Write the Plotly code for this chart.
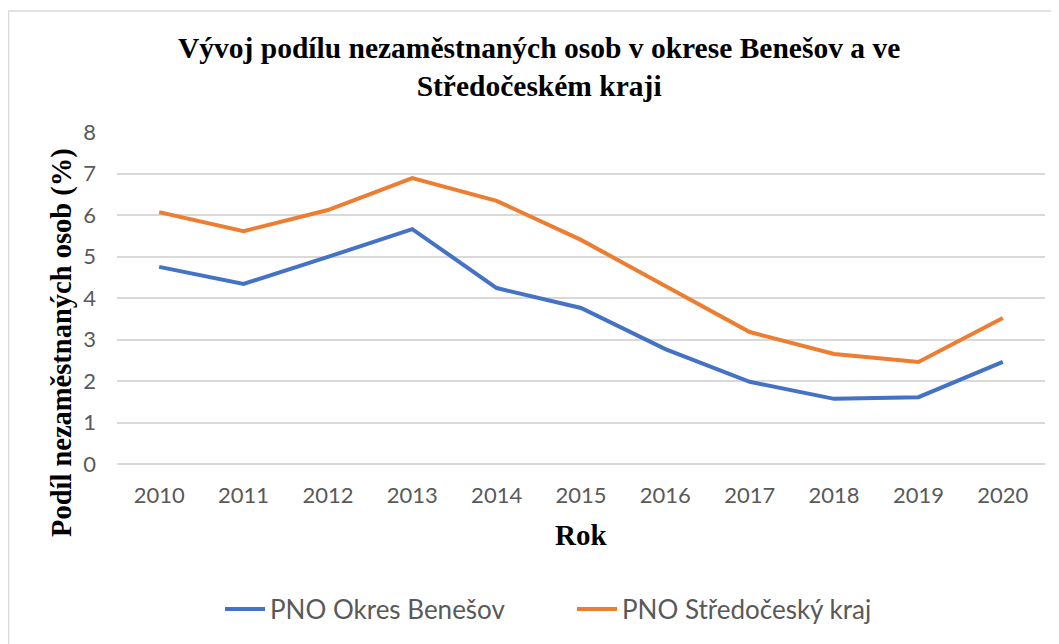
import plotly.graph_objects as go

roky = [2010, 2011, 2012, 2013, 2014, 2015, 2016, 2017, 2018, 2019, 2020]
pno_benesov = [4.75, 4.34, 4.99, 5.66, 4.24, 3.76, 2.77, 1.98, 1.57, 1.61, 2.46]
pno_kraj = [6.07, 5.61, 6.12, 6.89, 6.34, 5.40, 4.29, 3.18, 2.65, 2.46, 3.52]

serif = "Liberation Serif"
sans = "Lato"
seda = "#595959"

# plocha grafu v pixelech (stranka ma 8px okraj)
L, T, W, H = 109, 124, 928, 332


def px(x):
    return (x - L) / W


def py(y):
    return (T + H - y) / H


fig = go.Figure()
fig.add_trace(go.Scatter(x=roky, y=pno_benesov, mode="lines", name="PNO Okres Benešov",
                         line=dict(color="#4472C4", width=4)))
fig.add_trace(go.Scatter(x=roky, y=pno_kraj, mode="lines", name="PNO Středočeský kraj",
                         line=dict(color="#ED7D31", width=4)))

fig.update_layout(
    width=1051, height=636,
    margin=dict(l=L, r=1051 - L - W, t=T, b=636 - T - H),
    paper_bgcolor="white", plot_bgcolor="white",
    showlegend=True,
    legend=dict(orientation="h", x=px(212), y=py(601), xanchor="left", yanchor="middle",
                font=dict(family=sans, size=26, color=seda), itemwidth=40,
                entrywidth=297, entrywidthmode="pixels"),
    xaxis=dict(range=[2009.5, 2020.5], tickmode="array", tickvals=roky,
               ticktext=[str(r) for r in roky], showgrid=False, zeroline=False,
               showline=False, ticks="", ticklabelstandoff=16,
               tickfont=dict(family=sans, size=22, color=seda)),
    yaxis=dict(range=[0, 8], dtick=1, showgrid=True, gridcolor="#D9D9D9", gridwidth=1.5,
               zeroline=True, zerolinecolor="#D9D9D9", zerolinewidth=1.5,
               ticks="", ticklabelstandoff=20,
               tickfont=dict(family=sans, size=22, color=seda)),
    annotations=[
        dict(text="<b>Vývoj podílu nezaměstnaných osob v okrese Benešov a ve<br>Středočeském kraji</b>",
             xref="paper", yref="paper", x=px(531), y=py(58.5),
             xanchor="center", yanchor="middle", showarrow=False,
             font=dict(family=serif, size=29.5, color="black")),
        dict(text="<b>Podíl nezaměstnaných osob (%)</b>", textangle=-90,
             xref="paper", yref="paper", x=px(54), y=py(335),
             xanchor="center", yanchor="middle", showarrow=False,
             font=dict(family=serif, size=28.5, color="black")),
        dict(text="<b>Rok</b>",
             xref="paper", yref="paper", x=px(573), y=py(527),
             xanchor="center", yanchor="middle", showarrow=False,
             font=dict(family=serif, size=29, color="black")),
    ],
    shapes=[
        dict(type="line", xref="paper", yref="paper",
             x0=px(0), x1=px(1051), y0=py(3), y1=py(3),
             line=dict(color="#D9D9D9", width=1.5)),
        dict(type="line", xref="paper", yref="paper",
             x0=px(0.5), x1=px(0.5), y0=py(3), y1=py(636),
             line=dict(color="#D9D9D9", width=1.5)),
    ],
)

fig.write_html("out.html")
